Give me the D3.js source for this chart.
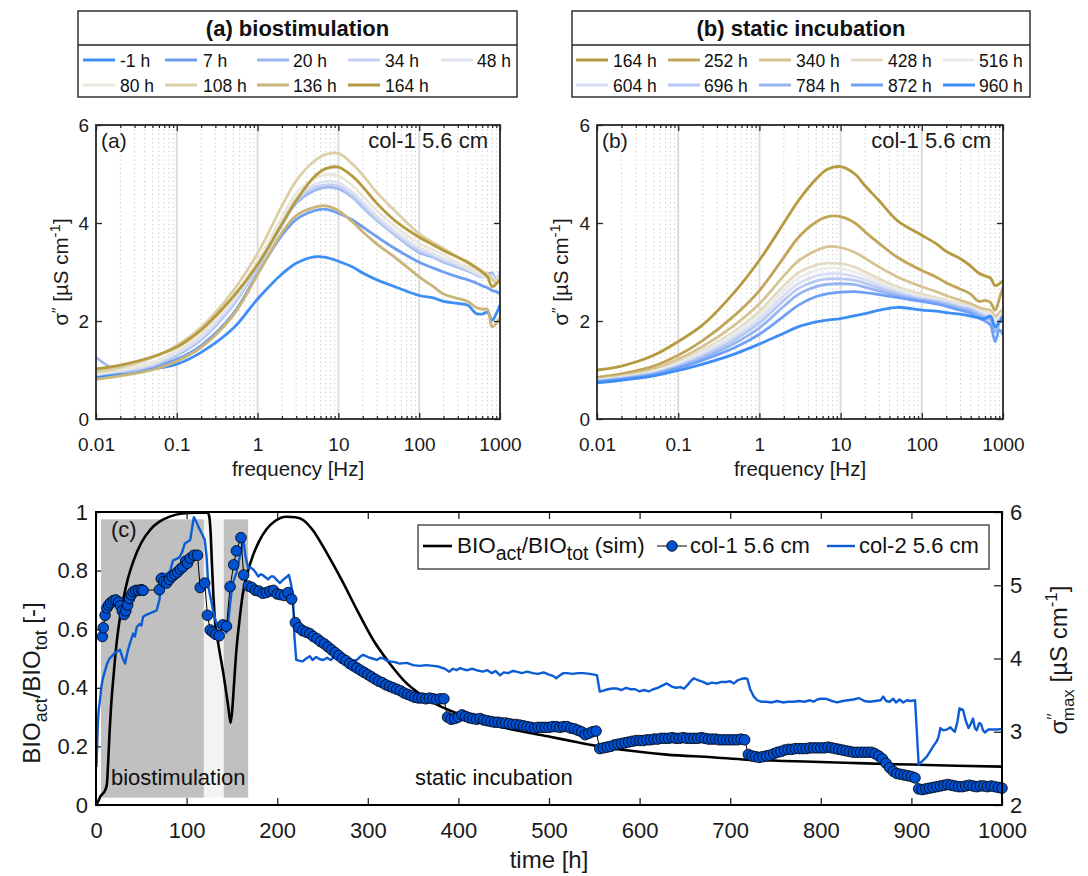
<!DOCTYPE html>
<html>
<head>
<meta charset="utf-8">
<script src="https://cdn.jsdelivr.net/npm/d3@7"></script>
<style>
  body { margin: 0; background: #fff; }
  svg { display: block; font-family: "Liberation Sans", Arial, Helvetica, sans-serif; }
</style>
</head>
<body>
<script>
// ---------- data: spectra (panels a, b) ----------
const freq = [0.01, 0.02, 0.05, 0.1, 0.2, 0.5, 1, 2, 3, 5, 7, 10, 15, 20, 30, 50, 100, 150, 200, 300, 400, 500, 600, 700, 800, 900, 1000];
const freqTicks = [0.01, 0.1, 1, 10, 100, 1000];
const freqTickLabels = ["0.01", "0.1", "1", "10", "100", "1000"];

const bioLabels = ["-1 h", "7 h", "20 h", "34 h", "48 h", "80 h", "108 h", "136 h", "164 h"];
const bioColors = ["#3d8ef7", "#6d9ef2", "#9bb7f0", "#c2cff2", "#dfe3ef", "#ebe7dc", "#dccfa6", "#c9b47a", "#b59a3f"];
const bioM1  = [0.85, 0.92, 1.02, 1.12, 1.36, 1.85, 2.45, 2.96, 3.18, 3.31, 3.30, 3.22, 3.10, 2.98, 2.84, 2.70, 2.52, 2.47, 2.40, 2.36, 2.32, 2.16, 2.14, 2.18, 2.02, 2.15, 2.32];
const bio7   = [0.92, 0.95, 1.06, 1.22, 1.50, 2.15, 2.97, 3.75, 4.07, 4.25, 4.28, 4.20, 4.06, 3.92, 3.72, 3.48, 3.20, 3.08, 3.00, 2.90, 2.84, 2.78, 2.72, 2.68, 2.62, 2.60, 2.55];
const bio20  = [1.26, 0.97, 1.08, 1.30, 1.62, 2.33, 3.10, 3.96, 4.40, 4.66, 4.73, 4.70, 4.52, 4.32, 4.05, 3.76, 3.40, 3.30, 3.20, 3.10, 3.02, 2.95, 2.90, 2.96, 2.98, 2.82, 3.02];
const bio34  = [0.90, 0.97, 1.10, 1.32, 1.64, 2.35, 3.12, 3.98, 4.45, 4.72, 4.78, 4.75, 4.56, 4.36, 4.08, 3.78, 3.44, 3.32, 3.23, 3.12, 3.04, 2.96, 2.90, 2.93, 2.94, 2.84, 2.98];
const bio48  = [0.92, 0.99, 1.13, 1.35, 1.68, 2.40, 3.16, 4.03, 4.50, 4.78, 4.85, 4.82, 4.63, 4.43, 4.14, 3.83, 3.49, 3.37, 3.27, 3.16, 3.06, 2.98, 2.93, 2.90, 2.90, 2.80, 2.94];
const bio80  = [0.93, 1.01, 1.16, 1.40, 1.74, 2.47, 3.22, 4.12, 4.60, 4.90, 4.99, 4.96, 4.76, 4.55, 4.25, 3.93, 3.58, 3.45, 3.35, 3.20, 3.10, 3.02, 2.96, 2.92, 2.86, 2.78, 2.90];
const bio108 = [0.96, 1.05, 1.25, 1.50, 1.87, 2.62, 3.38, 4.35, 4.86, 5.26, 5.40, 5.42, 5.20, 4.98, 4.62, 4.25, 3.78, 3.60, 3.48, 3.30, 3.18, 3.08, 3.02, 2.95, 2.85, 2.78, 2.92];
const bio136 = [0.81, 0.88, 1.00, 1.18, 1.46, 2.12, 2.95, 3.80, 4.15, 4.32, 4.35, 4.25, 4.02, 3.82, 3.57, 3.30, 2.90, 2.70, 2.55, 2.46, 2.40, 2.28, 2.24, 2.24, 1.88, 1.95, 2.07];
const bio164 = [1.02, 1.10, 1.27, 1.47, 1.82, 2.50, 3.15, 3.98, 4.46, 4.94, 5.11, 5.14, 4.95, 4.74, 4.40, 4.05, 3.71, 3.55, 3.44, 3.30, 3.20, 3.10, 3.00, 2.90, 2.70, 2.76, 2.84];
const bioSeries = [bioM1, bio7, bio20, bio34, bio48, bio80, bio108, bio136, bio164];

const staticLabels = ["164 h", "252 h", "340 h", "428 h", "516 h", "604 h", "696 h", "784 h", "872 h", "960 h"];
const staticColors = ["#b59a3f", "#c1a65a", "#d5c391", "#e4dbc4", "#ebebea", "#d7ddf4", "#b6c8f3", "#98b5f3", "#6ea1f5", "#3d8df7"];
const st164 = [1.00, 1.08, 1.30, 1.58, 1.92, 2.60, 3.24, 4.00, 4.45, 4.90, 5.10, 5.15, 5.00, 4.76, 4.45, 4.05, 3.75, 3.58, 3.42, 3.27, 3.12, 2.98, 2.92, 2.88, 2.72, 2.76, 2.82];
const st252 = [0.85, 0.92, 1.08, 1.30, 1.60, 2.12, 2.62, 3.30, 3.70, 4.02, 4.13, 4.13, 4.00, 3.82, 3.58, 3.30, 3.03, 2.90, 2.78, 2.65, 2.55, 2.40, 2.42, 2.38, 2.22, 2.45, 2.69];
const st340 = [0.82, 0.88, 1.02, 1.22, 1.48, 1.92, 2.35, 2.92, 3.22, 3.44, 3.52, 3.50, 3.40, 3.28, 3.10, 2.90, 2.70, 2.60, 2.52, 2.42, 2.35, 2.28, 2.24, 2.22, 2.10, 2.16, 2.25];
const st428 = [0.80, 0.86, 0.98, 1.16, 1.40, 1.80, 2.20, 2.72, 2.98, 3.14, 3.18, 3.17, 3.10, 3.00, 2.86, 2.70, 2.55, 2.48, 2.42, 2.35, 2.30, 2.22, 2.20, 2.17, 2.05, 2.10, 2.20];
const st516 = [0.79, 0.85, 0.96, 1.13, 1.36, 1.75, 2.12, 2.62, 2.87, 3.03, 3.08, 3.07, 3.00, 2.92, 2.79, 2.65, 2.50, 2.44, 2.40, 2.32, 2.28, 2.20, 2.16, 2.13, 2.00, 2.08, 2.18];
const st604 = [0.78, 0.84, 0.94, 1.10, 1.32, 1.68, 2.04, 2.52, 2.76, 2.92, 2.96, 2.96, 2.91, 2.84, 2.73, 2.60, 2.47, 2.42, 2.38, 2.30, 2.26, 2.18, 2.13, 2.10, 1.95, 2.05, 2.15];
const st696 = [0.77, 0.83, 0.93, 1.08, 1.28, 1.62, 1.96, 2.42, 2.66, 2.82, 2.86, 2.86, 2.83, 2.77, 2.67, 2.56, 2.44, 2.40, 2.36, 2.28, 2.24, 2.15, 2.10, 2.06, 1.88, 2.00, 2.10];
const st784 = [0.76, 0.82, 0.92, 1.06, 1.24, 1.55, 1.86, 2.30, 2.54, 2.70, 2.75, 2.76, 2.74, 2.69, 2.61, 2.52, 2.42, 2.38, 2.33, 2.25, 2.20, 2.12, 2.06, 2.02, 1.78, 1.95, 2.05];
const st872 = [0.76, 0.81, 0.90, 1.04, 1.20, 1.46, 1.73, 2.10, 2.32, 2.50, 2.56, 2.59, 2.60, 2.58, 2.54, 2.48, 2.40, 2.35, 2.30, 2.22, 2.16, 2.06, 2.00, 1.92, 1.58, 1.82, 1.72];
const st960 = [0.74, 0.79, 0.88, 0.99, 1.12, 1.33, 1.53, 1.75, 1.88, 1.98, 2.02, 2.05, 2.11, 2.15, 2.22, 2.28, 2.22, 2.20, 2.17, 2.14, 2.10, 2.07, 2.05, 2.10, 1.88, 1.98, 2.10];
const staticSeries = [st164, st252, st340, st428, st516, st604, st696, st784, st872, st960];

// ---------- data: time series (panel c) ----------
const timeTicks = [0, 100, 200, 300, 400, 500, 600, 700, 800, 900, 1000];
const bioTicks = [0, 0.2, 0.4, 0.6, 0.8, 1];
const sigmaTicks = [2, 3, 4, 5, 6];
// shaded phases [start, end] in h
const bioPhases = [[5.5, 119], [141, 168]];
const pausePhase = [[119, 141]];

// simulated BIO_act/BIO_tot [t, value]
const bioSim = [[0,0],[2,0.01],[5,0.03],[10,0.05],[12,0.07],[13.5,0.15],[15,0.25],[16.5,0.33],[18.5,0.41],[21,0.5],[23,0.56],[26,0.63],[30,0.7],[35,0.77],[41,0.83],[50,0.895],[60,0.94],[70,0.967],[82,0.985],[95,0.995],[110,0.998],[123,0.998],[125,0.985],[126.5,0.93],[128,0.82],[129.5,0.72],[131,0.64],[135,0.55],[140.5,0.45],[146,0.335],[148.6,0.28],[150.5,0.33],[152.5,0.42],[155,0.53],[158,0.62],[162,0.72],[167,0.79],[173,0.85],[180,0.9],[188,0.94],[198,0.97],[210,0.984],[220,0.982],[229,0.972],[240,0.935],[251,0.88],[262,0.82],[273,0.757],[288,0.666],[306,0.563],[324,0.484],[343,0.415],[358,0.378],[375,0.345],[391,0.322],[420,0.29],[446,0.267],[475,0.248],[501,0.233],[530,0.215],[556,0.2],[590,0.185],[630,0.172],[680,0.163],[718,0.155],[760,0.15],[800,0.147],[850,0.142],[900,0.138],[950,0.134],[1000,0.131]];

// col-1 sigma''_max [t, value]
const col1 = [[7,4.30],[8,4.42],[10,4.59],[12,4.69],[14,4.73],[16,4.76],[19,4.79],[22,4.80],[25,4.77],[27,4.72],[29,4.65],[31,4.60],[33,4.65],[35,4.73],[37,4.82],[39,4.87],[41,4.91],[44,4.93],[47,4.93],[50,4.94],[52,4.93],
[70,4.94],[72,5.09],[75,5.05],[78,5.03],[81,5.08],[84,5.12],[87,5.15],[90,5.18],[93,5.22],[96,5.25],[99,5.33],[101,5.30],[104,5.37],[108,5.41],[112,5.41],
[115,4.97],[120,5.03],[123,4.59],[126,4.39],[129,4.36],[132,4.33],[136,4.31],[140,4.46],[144,4.44],[148,4.98],[152,5.28],[155,5.47],[160,5.65],[163,5.14],
[168,4.99],[172,4.97],[176,4.93],[180,4.92],[184,4.89],[188,4.90],[192,4.92],[196,4.93],[200,4.88],[204,4.87],[208,4.86],[212,4.90],[216,4.81],
[220,4.49],[224,4.42],[228,4.38],[232,4.36],[236,4.34],[240,4.30],[244,4.27],[248,4.23],[252,4.20],[256,4.16],[260,4.12],[264,4.08],[268,4.04],[272,4.00],[276,3.97],[280,3.93],[284,3.90],[288,3.87],[292,3.84],[296,3.81],[300,3.78],[304,3.75],[308,3.72],[312,3.69],[316,3.67],[320,3.64],[324,3.62],[328,3.60],[332,3.58],[336,3.56],[340,3.53],[344,3.51],[348,3.49],[352,3.47],[356,3.46],[360,3.46],[364,3.45],[368,3.46],[372,3.45],[376,3.44],[380,3.45],[384,3.45],
[388,3.20],[392,3.17],[396,3.18],[400,3.20],[404,3.23],[408,3.21],[412,3.19],[416,3.18],[420,3.17],[424,3.18],[428,3.16],[432,3.15],[436,3.14],[440,3.13],[444,3.13],[448,3.12],[452,3.12],[456,3.11],[460,3.10],[464,3.10],[468,3.09],[472,3.08],[476,3.07],[480,3.06],[484,3.05],[488,3.06],[492,3.06],[496,3.06],[500,3.06],[504,3.07],[508,3.07],[512,3.06],[516,3.07],[520,3.07],[524,3.05],[528,3.04],[532,3.02],[536,3.00],[540,2.96],[544,2.98],[548,3.00],[552,3.01],
[556,2.77],[560,2.78],[564,2.79],[568,2.80],[572,2.82],[576,2.83],[580,2.84],[584,2.85],[588,2.86],[592,2.87],[596,2.88],[600,2.88],[604,2.88],[608,2.89],[612,2.89],[616,2.90],[620,2.90],[624,2.91],[628,2.91],[632,2.91],[636,2.92],[640,2.91],[644,2.91],[648,2.92],[652,2.91],[656,2.91],[660,2.91],[664,2.91],[668,2.92],[672,2.91],[676,2.90],[680,2.90],[684,2.90],[688,2.89],[692,2.89],[696,2.89],[700,2.89],[704,2.89],[708,2.89],[712,2.90],[716,2.89],
[720,2.69],[724,2.67],[728,2.66],[732,2.65],[736,2.66],[740,2.67],[744,2.68],[748,2.70],[752,2.72],[756,2.73],[760,2.75],[764,2.76],[768,2.76],[772,2.77],[776,2.77],[780,2.77],[784,2.77],[788,2.78],[792,2.78],[796,2.78],[800,2.78],[804,2.78],[808,2.79],[812,2.78],[816,2.77],[820,2.76],[824,2.75],[828,2.74],[832,2.73],[836,2.72],[840,2.72],[844,2.72],[848,2.72],[852,2.72],[856,2.72],[860,2.70],[864,2.67],[868,2.63],[872,2.57],[876,2.51],[880,2.46],[884,2.43],[888,2.42],[892,2.41],[896,2.40],[900,2.39],[904,2.37],
[908,2.22],[912,2.21],[916,2.22],[920,2.23],[924,2.24],[928,2.25],[932,2.26],[936,2.27],[940,2.28],[944,2.27],[948,2.26],[952,2.25],[956,2.25],[960,2.26],[964,2.27],[968,2.26],[972,2.25],[976,2.26],[980,2.26],[984,2.25],[988,2.26],[992,2.25],[996,2.24],[1000,2.23]];

// col-2 sigma''_max [t, value]
const col2 = [[0.5,2.52],[2,3.1],[3,3.3],[4.5,3.45],[6,3.62],[8,3.75],[12,3.92],[15,4.0],[18,4.04],[21,4.08],[24,4.1],[26.5,4.12],[29,4.02],[32,3.93],[35,4.1],[37.5,4.21],[41,4.34],[43,4.3],[45,4.43],[48,4.47],[50,4.45],[52,4.57],[56,4.6],[60,4.62],[64,4.64],[67,4.66],[70,4.8],[72.5,5.16],[76,5.15],[80,5.17],[82,5.2],[85,5.34],[89,5.36],[92,5.38],[95,5.45],[98,5.57],[102,5.6],[104,5.62],[108,5.93],[111,5.86],[113,5.8],[117,5.7],[120,5.62],[122,5.4],[124,4.98],[127,4.8],[129,4.66],[132,4.52],[135,4.43],[138,4.4],[141,4.39],[144,4.35],[146,4.5],[148,4.75],[150,4.95],[152,5.07],[155,5.17],[158,5.35],[161,5.53],[163,5.59],[165,5.4],[168,5.23],[171,5.24],[174,5.21],[177,5.16],[179,5.12],[182,5.15],[184,5.14],[187,5.11],[190,5.08],[193,5.12],[196,5.12],[199,5.08],[203,5.03],[206,5.07],[210,5.11],[213,5.14],[215.5,5.0],[217.5,4.8],[219,4.3],[221,3.98],[224,3.97],[228,3.96],[232,4.0],[236,4.03],[239,3.98],[243,4.02],[247,3.99],[251,3.98],[255,4.01],[259,3.98],[263,4.02],[269,4.02],[273,3.98],[278,4.0],[283,3.97],[288,3.98],[292,4.03],[295,4.05],[300,4.02],[305,4.0],[310,3.98],[314,4.01],[317.5,4.0],[321,3.97],[324.5,3.96],[330,3.95],[335,3.93],[343,3.94],[350,3.91],[357,3.9],[365,3.91],[372,3.9],[378,3.89],[385,3.86],[390,3.82],[394,3.86],[398,3.84],[402,3.87],[406,3.85],[410,3.84],[415,3.86],[420,3.84],[427,3.82],[432,3.84],[437,3.8],[441,3.83],[446,3.77],[450,3.81],[455,3.8],[460,3.83],[464,3.82],[470,3.8],[476,3.82],[482,3.8],[488,3.79],[494,3.81],[500,3.78],[505,3.76],[508,3.73],[512,3.77],[516,3.8],[520,3.8],[526,3.79],[532,3.8],[538,3.8],[545,3.79],[550,3.78],[553,3.77],[556,3.55],[560,3.56],[565,3.58],[570,3.59],[575,3.59],[580,3.57],[585,3.6],[590,3.58],[595,3.58],[600,3.55],[605,3.57],[610,3.55],[615,3.58],[620,3.6],[625,3.63],[630,3.66],[635,3.62],[640,3.6],[645,3.61],[649,3.59],[653,3.64],[657,3.7],[660,3.73],[665,3.7],[670,3.68],[675,3.65],[680,3.67],[685,3.66],[690,3.68],[696,3.68],[700,3.69],[704,3.66],[708,3.7],[712,3.72],[716,3.73],[719,3.72],[722,3.58],[726,3.48],[730,3.43],[734,3.41],[740,3.41],[746,3.4],[752,3.42],[758,3.4],[764,3.41],[770,3.41],[776,3.42],[782,3.41],[788,3.43],[792,3.41],[796,3.44],[800,3.45],[806,3.45],[812,3.42],[818,3.4],[824,3.42],[830,3.43],[836,3.44],[842,3.46],[848,3.42],[854,3.41],[860,3.42],[866,3.43],[869,3.48],[872,3.42],[876,3.41],[880,3.45],[883,3.4],[887,3.44],[891,3.4],[895,3.43],[899,3.42],[904,3.43],[906,3.0],[908,2.55],[912,2.6],[917,2.66],[921,2.74],[924,2.8],[928,2.87],[930,2.93],[932,3.05],[935,3.02],[939,3.03],[943,3.06],[946,3.02],[948,3.0],[951,3.15],[953,3.32],[957,3.3],[960,3.15],[963,3.05],[966,3.12],[968,3.18],[970,3.05],[972,3.02],[975,3.12],[977,3.1],[979,3.02],[981,2.99],[985,3.03],[990,3.03],[995,3.03],[1000,3.04]];

// ---------- drawing ----------
const W = 1088, H = 876;
const AX = "#262626";
const svg = d3.select("body").append("svg").attr("width", W).attr("height", H);

// rich text: parts with baseline shift s (negative = up)
function rich(sel, parts) {
  let shift = 0;
  parts.forEach(p => {
    const s = p.s || 0;
    sel.append("tspan")
      .attr("dy", s - shift)
      .attr("dx", p.dx || null)
      .attr("font-size", p.size || null)
      .text(p.t);
    shift = s;
  });
}

function styleAxis(g, fs) {
  g.attr("font-size", fs).attr("font-family", null).attr("color", AX);
  g.select(".domain").remove();
  g.selectAll(".tick line").attr("stroke-width", 1.3);
  g.selectAll(".tick text").attr("fill", "#1a1a1a");
}

const minorFreq = [];
for (let e = -2; e < 3; e++) for (let m = 2; m < 10; m++) minorFreq.push(m * Math.pow(10, e));

function spectraPanel(p) {
  const x = d3.scaleLog().domain([0.01, 1000]).range([p.x0, p.x1]);
  const y = d3.scaleLinear().domain([0, 6]).range([p.y1, p.y0]);
  const g = svg.append("g");

  g.append("clipPath").attr("id", p.id + "clip")
    .append("rect").attr("x", p.x0).attr("y", p.y0).attr("width", p.x1 - p.x0).attr("height", p.y1 - p.y0);

  // grid
  g.selectAll(null).data(minorFreq).join("line")
    .attr("x1", d => x(d)).attr("x2", d => x(d)).attr("y1", p.y0).attr("y2", p.y1)
    .attr("stroke", "#c8c8c8").attr("stroke-width", 1).attr("stroke-dasharray", "1.3,3");
  g.selectAll(null).data(freqTicks.slice(1, -1)).join("line")
    .attr("x1", d => x(d)).attr("x2", d => x(d)).attr("y1", p.y0).attr("y2", p.y1)
    .attr("stroke", "#dcdcdc").attr("stroke-width", 2);

  // curves
  const line = d3.line().x((d, i) => x(freq[i])).y(d => y(d)).curve(d3.curveCatmullRom.alpha(0.5));
  g.append("g").attr("clip-path", `url(#${p.id}clip)`)
    .selectAll("path").data(p.series).join("path")
    .attr("d", line).attr("fill", "none")
    .attr("stroke", (d, i) => p.colors[i]).attr("stroke-width", 2.8)
    .attr("stroke-linejoin", "round");

  // axes
  const fs = 19;
  g.append("g").attr("transform", `translate(0,${p.y1})`)
    .call(d3.axisBottom(x).tickValues(freqTicks).tickFormat((d, i) => freqTickLabels[i]).tickSize(-6).tickPadding(19))
    .call(a => styleAxis(a, fs));
  g.append("g").attr("transform", `translate(0,${p.y1})`)
    .call(d3.axisBottom(x).tickValues(minorFreq).tickFormat("").tickSize(-3))
    .call(a => styleAxis(a, fs));
  g.append("g").attr("transform", `translate(0,${p.y0})`)
    .call(d3.axisTop(x).tickValues(freqTicks).tickFormat("").tickSize(-6))
    .call(a => styleAxis(a, fs));
  g.append("g").attr("transform", `translate(0,${p.y0})`)
    .call(d3.axisTop(x).tickValues(minorFreq).tickFormat("").tickSize(-3))
    .call(a => styleAxis(a, fs));
  g.append("g").attr("transform", `translate(${p.x0},0)`)
    .call(d3.axisLeft(y).tickValues([0, 2, 4, 6]).tickFormat(d3.format("d")).tickSize(-6).tickPadding(7))
    .call(a => styleAxis(a, fs));
  g.append("g").attr("transform", `translate(${p.x1},0)`)
    .call(d3.axisRight(y).tickValues([0, 2, 4, 6]).tickFormat("").tickSize(-6))
    .call(a => styleAxis(a, fs));
  g.append("rect").attr("x", p.x0).attr("y", p.y0).attr("width", p.x1 - p.x0).attr("height", p.y1 - p.y0)
    .attr("fill", "none").attr("stroke", AX).attr("stroke-width", 1.8);

  // labels
  g.append("text").attr("x", (p.x0 + p.x1) / 2).attr("y", 476).attr("text-anchor", "middle")
    .attr("font-size", 20.5).attr("fill", "#1a1a1a").text("frequency [Hz]");
  const yl = g.append("text").attr("transform", `translate(${p.ylx},${(p.y0 + p.y1) / 2}) rotate(-90)`)
    .attr("text-anchor", "middle").attr("font-size", 20.5).attr("fill", "#1a1a1a");
  rich(yl, [{ t: "σ" }, { t: "′′", s: -6, size: 15 }, { t: " [µS cm", s: 0 }, { t: "-1", s: -8, size: 15 }, { t: "]", s: 0 }]);
  g.append("text").attr("x", p.x0 + 5).attr("y", 148).attr("font-size", 21).attr("fill", "#1a1a1a").text(p.tag);
  g.append("text").attr("x", p.x1 - 12).attr("y", 148).attr("text-anchor", "end").attr("font-size", 22)
    .attr("fill", "#1a1a1a").text("col-1 5.6 cm");

  // legend box
  const L = p.legend;
  const lg = svg.append("g");
  lg.append("rect").attr("x", L.x0).attr("y", 11).attr("width", L.x1 - L.x0).attr("height", 86)
    .attr("fill", "#fff").attr("stroke", AX).attr("stroke-width", 1.4);
  lg.append("line").attr("x1", L.x0).attr("x2", L.x1).attr("y1", 45).attr("y2", 45)
    .attr("stroke", AX).attr("stroke-width", 1.4);
  lg.append("text").attr("x", (L.x0 + L.x1) / 2).attr("y", 36).attr("text-anchor", "middle")
    .attr("font-size", 22).attr("font-weight", "bold").attr("fill", "#111").text(L.title);
  const items = lg.selectAll("g.item").data(p.labels).join("g").attr("class", "item")
    .attr("transform", (d, i) => `translate(${L.cols[i % 5]},${i < 5 ? 60 : 85})`);
  items.append("line").attr("x1", 0).attr("x2", 32).attr("stroke", (d, i) => p.colors[i]).attr("stroke-width", 3);
  items.append("text").attr("x", (d, i) => L.txt[i % 5]).attr("y", 6.5)
    .attr("font-size", 17.5).attr("fill", "#111").text(d => d);
}

spectraPanel({
  id: "pa", x0: 96, x1: 500, y0: 125, y1: 419, ylx: 68, tag: "(a)",
  series: bioSeries, colors: bioColors, labels: bioLabels,
  legend: { x0: 78, x1: 517, title: "(a) biostimulation", cols: [83, 165, 257, 348, 441], txt: [37, 38, 36, 37, 36] }
});
spectraPanel({
  id: "pb", x0: 597, x1: 1003, y0: 125, y1: 419, ylx: 568, tag: "(b)",
  series: staticSeries, colors: staticColors, labels: staticLabels,
  legend: { x0: 572, x1: 1030, title: "(b) static incubation", cols: [576, 668, 759, 851, 943], txt: [37, 36, 37, 37, 36] }
});

// ---------- panel c ----------
const C = { x0: 96, x1: 1002, y0: 512, y1: 805 };
const xt = d3.scaleLinear().domain([0, 1000]).range([C.x0, C.x1]);
const yL = d3.scaleLinear().domain([0, 1]).range([C.y1, C.y0]);
const yR = d3.scaleLinear().domain([2, 6]).range([C.y1, C.y0]);
const gc = svg.append("g");

gc.append("clipPath").attr("id", "pcclip")
  .append("rect").attr("x", C.x0).attr("y", C.y0).attr("width", C.x1 - C.x0).attr("height", C.y1 - C.y0);

gc.selectAll("rect.pause").data(pausePhase).join("rect").attr("class", "pause")
  .attr("x", d => xt(d[0])).attr("width", d => xt(d[1]) - xt(d[0]))
  .attr("y", yL(0.975)).attr("height", yL(0.025) - yL(0.975)).attr("fill", "#f3f3f3");
gc.selectAll("rect.phase").data(bioPhases).join("rect").attr("class", "phase")
  .attr("x", d => xt(d[0])).attr("width", d => xt(d[1]) - xt(d[0]))
  .attr("y", yL(0.975)).attr("height", yL(0.025) - yL(0.975)).attr("fill", "#c0c0c0");

gc.append("text").attr("x", 111).attr("y", 785).attr("font-size", 22).attr("fill", "#111").text("biostimulation");
gc.append("text").attr("x", 415).attr("y", 785).attr("font-size", 22).attr("fill", "#111").text("static incubation");
gc.append("text").attr("x", 111).attr("y", 537).attr("font-size", 22).attr("fill", "#111").text("(c)");

const plot = gc.append("g").attr("clip-path", "url(#pcclip)");
plot.append("path").datum(bioSim)
  .attr("d", d3.line().x(d => xt(d[0])).y(d => yL(d[1])).curve(d3.curveMonotoneX))
  .attr("fill", "none").attr("stroke", "#000").attr("stroke-width", 2.6);
plot.append("path").datum(col2)
  .attr("d", d3.line().x(d => xt(d[0])).y(d => yR(d[1])))
  .attr("fill", "none").attr("stroke", "#0b5cd5").attr("stroke-width", 2.4).attr("stroke-linejoin", "round");
plot.append("path").datum(col1)
  .attr("d", d3.line().x(d => xt(d[0])).y(d => yR(d[1])))
  .attr("fill", "none").attr("stroke", "#000").attr("stroke-width", 1);
gc.append("g").selectAll("circle").data(col1).join("circle")
  .attr("cx", d => xt(d[0])).attr("cy", d => yR(d[1])).attr("r", 5.3)
  .attr("fill", "#0050d2").attr("stroke", "#000").attr("stroke-width", 0.8);

const fsC = 22;
gc.append("g").attr("transform", `translate(0,${C.y1})`)
  .call(d3.axisBottom(xt).tickValues(timeTicks).tickFormat(d3.format("d")).tickSize(-7).tickPadding(17))
  .call(a => styleAxis(a, fsC));
gc.append("g").attr("transform", `translate(0,${C.y0})`)
  .call(d3.axisTop(xt).tickValues(timeTicks).tickFormat("").tickSize(-7))
  .call(a => styleAxis(a, fsC));
gc.append("g").attr("transform", `translate(${C.x0},0)`)
  .call(d3.axisLeft(yL).tickValues(bioTicks).tickFormat(d3.format("~g")).tickSize(-5).tickPadding(8))
  .call(a => styleAxis(a, fsC));
gc.append("g").attr("transform", `translate(${C.x1},0)`)
  .call(d3.axisRight(yR).tickValues(sigmaTicks).tickFormat(d3.format("d")).tickSize(-8).tickPadding(8))
  .call(a => styleAxis(a, fsC));
gc.append("rect").attr("x", C.x0).attr("y", C.y0).attr("width", C.x1 - C.x0).attr("height", C.y1 - C.y0)
  .attr("fill", "none").attr("stroke", "#000").attr("stroke-width", 2);

gc.append("text").attr("x", (C.x0 + C.x1) / 2).attr("y", 868).attr("text-anchor", "middle")
  .attr("font-size", 24).attr("fill", "#1a1a1a").text("time [h]");
const ylc = gc.append("text").attr("transform", "translate(40,683) rotate(-90)")
  .attr("text-anchor", "middle").attr("font-size", 24).attr("fill", "#1a1a1a");
rich(ylc, [{ t: "BIO" }, { t: "act", s: 7, size: 18 }, { t: "/BIO", s: 0 }, { t: "tot", s: 7, size: 18 }, { t: " [-]", s: 0 }]);
const yrc = gc.append("text").attr("transform", "translate(1067,660) rotate(-90)")
  .attr("text-anchor", "middle").attr("font-size", 24).attr("fill", "#1a1a1a");
rich(yrc, [{ t: "σ" }, { t: "′′", s: -8, size: 17 }, { t: "max", s: 7, size: 17, dx: -8 }, { t: " [µS cm", s: 0 }, { t: "-1", s: -10, size: 17 }, { t: "]", s: 0 }]);

// legend c
const lc = gc.append("g");
lc.append("rect").attr("x", 418).attr("y", 525).attr("width", 571).attr("height", 44)
  .attr("fill", "#fff").attr("stroke", "#444").attr("stroke-width", 1.4);
lc.append("line").attr("x1", 423).attr("x2", 452).attr("y1", 546).attr("y2", 546).attr("stroke", "#000").attr("stroke-width", 2.6);
const lt1 = lc.append("text").attr("x", 457).attr("y", 553).attr("font-size", 22.5).attr("fill", "#111");
rich(lt1, [{ t: "BIO" }, { t: "act", s: 7, size: 19.5 }, { t: "/BIO", s: 0 }, { t: "tot", s: 7, size: 19.5 }, { t: " (sim)", s: 0 }]);
lc.append("line").attr("x1", 657).attr("x2", 687).attr("y1", 546).attr("y2", 546).attr("stroke", "#000").attr("stroke-width", 1);
lc.append("circle").attr("cx", 672).attr("cy", 546).attr("r", 5.3).attr("fill", "#0050d2").attr("stroke", "#000").attr("stroke-width", 0.8);
lc.append("text").attr("x", 690).attr("y", 553).attr("font-size", 22).attr("fill", "#111").text("col-1 5.6 cm");
lc.append("line").attr("x1", 827).attr("x2", 855).attr("y1", 546).attr("y2", 546).attr("stroke", "#0b5cd5").attr("stroke-width", 2.4);
lc.append("text").attr("x", 859).attr("y", 553).attr("font-size", 22).attr("fill", "#111").text("col-2 5.6 cm");
</script>
</body>
</html>
